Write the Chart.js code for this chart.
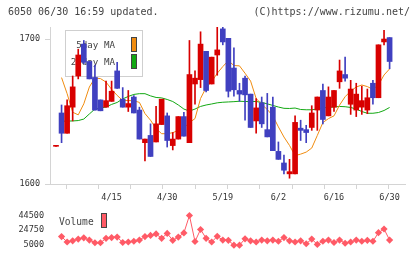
<!DOCTYPE html>
<html><head><meta charset="utf-8">
<script src="https://cdn.jsdelivr.net/npm/chart.js@4"></script>
<style>
html,body{margin:0;padding:0;background:#fff;}
#wrap{position:relative;width:420px;height:259px;overflow:hidden;background:#fff;}
.hdr{position:absolute;top:6px;font:10px "DejaVu Sans Mono",monospace;color:#444;white-space:nowrap;line-height:12px;}
#c1{position:absolute;left:0;top:0;width:420px;height:210px;}
#c2{position:absolute;left:0;top:200px;width:420px;height:59px;}
</style></head>
<body><div id="wrap">
<canvas id="c1" width="420" height="210"></canvas>
<canvas id="c2" width="420" height="59"></canvas>
<div class="hdr" style="left:8px">6050 06/30 16:59 updated.</div>
<div class="hdr" style="right:10px">(C)https://www.rizumu.net/</div>
</div>
<script>
// ---- data ----
const opens  = [1626,1649,1635,1653,1674.5,1696.5,1684.5,1673.5,1658,1653,1657,1678,1658.5,1653,1660,1651,1628.5,1633.5,1629,1641,1647,1626.5,1631,1646.5,1628.5,1669,1672,1691.5,1669,1689,1707,1700.5,1680,1664.5,1673,1662,1643.5,1656,1637.5,1653,1622.5,1614.5,1607,1607,1638.5,1637.5,1639,1651,1664.5,1647,1653,1670.5,1675.5,1655,1651,1653,1651,1669.5,1659.5,1698,1701];
const highs  = [1626,1654.5,1658,1674.5,1693,1699,1684.5,1682,1658,1671,1671,1684,1666.5,1664.5,1661,1653,1631,1641.5,1653.5,1658.5,1649,1635.5,1646.5,1649.5,1699,1678,1705,1691.5,1687.5,1712,1712,1700.5,1694,1669.5,1674.5,1662,1659,1660,1662.5,1660,1629,1620,1617,1647,1644,1640.5,1654,1660,1669,1667,1664.5,1685.5,1687.5,1671.5,1669.5,1667.5,1665.5,1671.5,1696,1706,1701];
const lows   = [1626,1628.5,1635,1643.5,1672.5,1683,1672.5,1651,1650.5,1653,1657,1666,1653,1650,1649,1631,1616,1619,1629,1641,1625.5,1623.5,1631,1633,1628.5,1655,1666.5,1663.5,1669,1675,1696,1660,1660.5,1657,1644,1639,1635,1639,1632.5,1623,1617,1607,1604,1607,1630,1628.5,1637,1637,1641.5,1647,1650,1666,1671,1648,1646.5,1648,1648.5,1655,1659.5,1696,1679.5];
const closes = [1626,1635,1654,1667,1689,1684,1672.5,1651,1650.5,1657.5,1664,1666,1653,1655.5,1649,1631,1631,1619,1641.5,1658.5,1630,1631,1646.5,1633,1675.5,1673,1696.5,1664.5,1687.5,1692.5,1698,1664,1665,1662,1661.5,1639,1652.5,1641.5,1632.5,1623,1617,1609.5,1608.5,1642.5,1637,1635.5,1649,1660,1644.5,1660,1664.5,1678,1673,1665.5,1662,1657.5,1659.5,1659.5,1696,1700,1684.5];
const ma5  = [null,1673.4,1662.3,1649.5,1647.7,1655.3,1666.9,1673.1,1672.7,1670.3,1665.3,1661.1,1657.6,1657.6,1657.4,1656.3,1648.6,1644,1638.2,1634.7,1634.7,1635.4,1637,1638.7,1642.4,1645.1,1659,1666.5,1670.6,1676.4,1681,1685.1,1681.7,1681.5,1676.4,1671,1659,1654.9,1651.4,1647,1639.4,1632.4,1626.6,1619.6,1620.6,1622,1624.8,1633.5,1642.4,1645.1,1647,1654.4,1660.2,1664.1,1666.9,1668.3,1667.2,1665.3,1668.3,1675.2,1679.4];
const ma25 = [null,1643.3,1643.4,1643.5,1643.75,1644.8,1648.3,1651.7,1652.4,1653.1,1654.9,1656.25,1658.7,1660.4,1661.8,1662.3,1662.3,1660.8,1659.7,1659.4,1658.3,1656.9,1654.5,1651.7,1650.3,1651.7,1653.5,1654.5,1655.2,1656,1656.4,1656.6,1656.8,1657.1,1656.9,1656.9,1656.9,1656.25,1655.3,1654.2,1653.1,1652.2,1652.1,1652.4,1651.4,1651.2,1651.2,1651.7,1652.6,1652.8,1653.1,1653.5,1653.3,1652.8,1651.7,1650,1648.8,1648.8,1649.3,1650.7,1652.8];
const volume = [null,16200,8950,10600,12900,14550,11580,7960,7960,13890,14880,15530,8290,8950,9940,11580,16200,17840,19810,13890,20470,11250,15530,21130,44500,9610,25740,13890,8950,16520,11580,11250,4670,4670,13230,10600,8950,11580,10600,11580,9940,14880,10600,8950,10600,6650,12900,5660,9940,11580,8290,11580,7300,8950,11580,9940,11250,9940,21460,26400,11580];
const dateLabels = ['4/15','4/30','5/19','6/2','6/16','6/30'];
const dateLabelIdx = [10,20,30,40,50,60];
const priceTicks = [1600,1700];
const volTicks = [5000,24750,44500];
const seriesNames = ['5day MA','25day MA','Volume'];

// ---- styles ----
const RED='#d80000', BLUE='#4040c0', ORANGE='#f08c10', GREEN='#12a812', VOLC='#ff5a66';
const AXIS='#d4d4d4', TXT='#333';
const FONT={family:'"DejaVu Sans Mono", monospace', size:8.5};
const XMIN=-1.079, XMAX=62.77;

const idx = closes.map((_,i)=>i);
const candleColors = idx.map(i=>closes[i]>=opens[i]?RED:BLUE);

const maLegend = {
  id:'maLegend',
  beforeDatasetsDraw(chart){
    const ctx=chart.ctx; ctx.save();
    ctx.fillStyle='#fff'; ctx.fillRect(65,30,78,47);
    ctx.strokeStyle='#cfcfcf'; ctx.lineWidth=1; ctx.strokeRect(65.5,30.5,77,46);
    ctx.font='9.2px "DejaVu Sans Mono", monospace'; ctx.fillStyle='#444';
    ctx.textAlign='right'; ctx.textBaseline='middle';
    ctx.fillText(seriesNames[0],115,46);
    ctx.fillText(seriesNames[1],115,62.5);
    ctx.strokeStyle='#444';
    ctx.fillStyle=ORANGE; ctx.fillRect(131,37,6,15); ctx.strokeRect(131.5,37.5,5,14);
    ctx.fillStyle=GREEN; ctx.fillRect(131,54,6,15); ctx.strokeRect(131.5,54.5,5,14);
    ctx.restore();
  }
};

new Chart(document.getElementById('c1'),{
  type:'bar',
  data:{datasets:[
    {label:'body', data:idx.map(i=>({x:i,y:[opens[i],closes[i]]})), backgroundColor:candleColors, barThickness:5, minBarLength:1, grouped:false, order:0},
    {label:'wick', data:idx.map(i=>({x:i,y:[lows[i],highs[i]]})), backgroundColor:candleColors, barThickness:1, grouped:false, order:1},
    {type:'line', label:seriesNames[0], data:idx.map(i=>({x:i,y:ma5[i]})), borderColor:ORANGE, borderWidth:1, pointRadius:0, order:2},
    {type:'line', label:seriesNames[1], data:idx.map(i=>({x:i,y:ma25[i]})), borderColor:GREEN, borderWidth:1, pointRadius:0, order:3}
  ]},
  options:{
    responsive:false, animation:false, events:[],
    layout:{padding:{top:27,right:15,left:0,bottom:0}},
    plugins:{legend:{display:false},tooltip:{enabled:false}},
    scales:{
      x:{type:'linear',min:XMIN,max:XMAX,offset:false,position:'bottom',
         afterBuildTicks:s=>{s.ticks=Array.from({length:12},(_,k)=>({value:XMIN+k*(XMAX-XMIN)/11}));},
         ticks:{display:false},
         grid:{drawOnChartArea:false,tickLength:5,color:AXIS},
         border:{color:AXIS},
         afterFit:s=>{s.height=6;}},
      x2:{type:'linear',min:XMIN,max:XMAX,offset:false,position:'bottom',
         afterBuildTicks:s=>{s.ticks=dateLabelIdx.map(v=>({value:v}));},
         ticks:{callback:(v,i)=>dateLabels[i],font:FONT,color:TXT,padding:3,maxRotation:0,autoSkip:false},
         grid:{display:false,drawTicks:false},
         border:{display:false},
         afterFit:s=>{s.height=20;}},
      y:{min:1600,max:1708.3,
         afterBuildTicks:s=>{s.ticks=priceTicks.map(v=>({value:v}));},
         ticks:{callback:v=>String(v),font:FONT,color:TXT,padding:5},
         grid:{drawOnChartArea:false,tickLength:5,color:AXIS},
         border:{color:AXIS},
         afterFit:s=>{s.width=50;}}
    }
  },
  plugins:[maLegend]
});

const volLegend = {
  id:'volLegend',
  afterDatasetsDraw(chart){
    const ctx=chart.ctx; ctx.save();
    ctx.font='9.6px "DejaVu Sans Mono", monospace'; ctx.fillStyle='#444';
    ctx.textAlign='left'; ctx.textBaseline='middle';
    ctx.fillText(seriesNames[2],59,22.5);
    ctx.fillStyle=VOLC; ctx.fillRect(101,13,6,15);
    ctx.strokeStyle='#444'; ctx.lineWidth=1; ctx.strokeRect(101.5,13.5,5,14);
    ctx.restore();
  }
};

new Chart(document.getElementById('c2'),{
  type:'line',
  data:{datasets:[
    {label:seriesNames[2], data:idx.map(i=>({x:i,y:volume[i]})), borderColor:VOLC, backgroundColor:VOLC, borderWidth:1,
     pointStyle:'rectRot', pointRadius:3.6, pointBorderWidth:0, clip:false}
  ]},
  options:{
    responsive:false, animation:false, events:[],
    layout:{padding:{top:3,right:15,left:0,bottom:6}},
    plugins:{legend:{display:false},tooltip:{enabled:false}},
    scales:{
      x:{type:'linear',min:XMIN,max:XMAX,display:false},
      y:{min:1050,max:50425,
         afterBuildTicks:s=>{s.ticks=volTicks.map(v=>({value:v}));},
         ticks:{callback:v=>String(v),font:FONT,color:TXT,padding:6},
         grid:{display:false,drawTicks:false},
         border:{display:false},
         afterFit:s=>{s.width=50;}}
    }
  },
  plugins:[volLegend]
});
</script>
</body></html>
